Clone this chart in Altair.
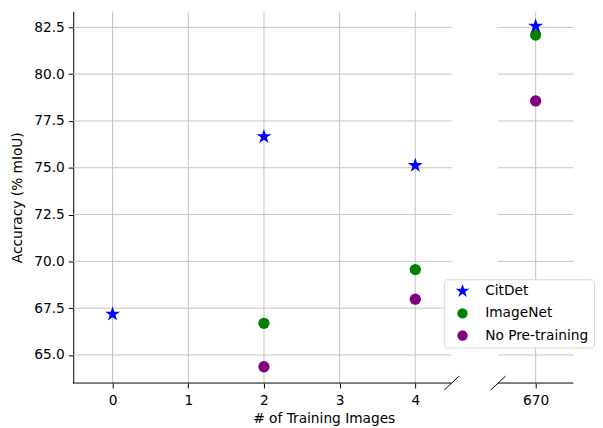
import altair as alt
import pandas as pd

series = ["CitDet", "ImageNet", "No Pre-training"]
colors = ["#0000ff", "#008000", "#800080"]
# five-pointed star as a custom symbol path (scaled a bit larger than the circles)
STAR = ("M0,-1.387L0.3114,-0.4286L1.3192,-0.4286L0.5039,0.1637L0.8153,1.1221L0,0.5298"
        "L-0.8153,1.1221L-0.5039,0.1637L-1.3192,-0.4286L-0.3114,-0.4286Z")
shapes = [STAR, "circle", "circle"]

citdet_x = [0, 2, 4, 670]
citdet_y = [67.18, 76.66, 75.12, 82.57]
imagenet_x = [2, 4, 670]
imagenet_y = [66.69, 69.56, 82.09]
nopre_x = [2, 4, 670]
nopre_y = [64.37, 67.98, 78.57]

x_ticks = [0, 1, 2, 3, 4, 670]
y_ticks = [65.0, 67.5, 70.0, 72.5, 75.0, 77.5, 80.0, 82.5]

# broken x axis: left segment shows [-0.52, 4.48], right segment shows [669.5, 670.5]
seg_lo = [-0.52, 669.5]
seg_hi = [4.48, 670.5]
BREAK_SHIFT = 670 - 5.59  # where the right segment sits on the shared axis

FONT = "DejaVu Sans"
FS = 13.9
H = 376
W = 507
YDOM = [63.5, 83.35]

rows = []
for name, xs, ys in [("ImageNet", imagenet_x, imagenet_y),
                     ("No Pre-training", nopre_x, nopre_y),
                     ("CitDet", citdet_x, citdet_y)]:
    for x, y in zip(xs, ys):
        rows.append({"x": x, "y": y, "series": name})
df = pd.DataFrame(rows)

grid_rows = []
for yt in y_ticks:
    for lo, hi in zip(seg_lo, seg_hi):
        grid_rows.append({"y": yt, "lo": lo, "hi": hi})
grid_df = pd.DataFrame(grid_rows)
spine_df = pd.DataFrame({"lo": seg_lo, "hi": seg_hi})
tick_df = pd.DataFrame({"x": x_ticks})

shift_expr = "datum.{f} > 100 ? datum.{f} - " + str(BREAK_SHIFT) + " : datum.{f}"


def shifted(f, out):
    return {out: shift_expr.format(f=f)}


xscale = alt.Scale(domain=[-0.52, 6.10], nice=False, zero=False)
yscale = alt.Scale(domain=YDOM, nice=False, zero=False)

xaxis = alt.Axis(values=[0, 1, 2, 3, 4, 670 - BREAK_SHIFT],
                 labelExpr="datum.value > 5 ? '670' : format(datum.value, 'd')",
                 title="# of Training Images", domain=False, grid=False,
                 labelPadding=6, titlePadding=4)
yaxis = alt.Axis(values=y_ticks, format=".1f", title="Accuracy (% mIoU)",
                 grid=False, titlePadding=9)

grid = alt.Chart(grid_df).transform_calculate(
    **shifted("lo", "plo"), **shifted("hi", "phi")
).mark_rule(color="#c4c4c4", strokeWidth=1).encode(
    x=alt.X("plo:Q", scale=xscale, axis=xaxis),
    x2="phi:Q",
    y=alt.Y("y:Q", scale=yscale, axis=yaxis),
)

vgrid = alt.Chart(tick_df).transform_calculate(
    **shifted("x", "px")
).mark_rule(color="#c4c4c4", strokeWidth=1).encode(
    x=alt.X("px:Q", scale=xscale, axis=xaxis),
    y=alt.value(0), y2=alt.value(H),
)

spine = alt.Chart(spine_df).transform_calculate(
    **shifted("lo", "plo"), **shifted("hi", "phi")
).mark_rule(color="black", strokeWidth=1).encode(
    x=alt.X("plo:Q", scale=xscale, axis=xaxis), x2="phi:Q", y=alt.value(H),
)

pts = alt.Chart(df).transform_calculate(
    **shifted("x", "px")
).mark_point(filled=True, opacity=1, strokeWidth=0, size=130).encode(
    x=alt.X("px:Q", scale=xscale, axis=xaxis),
    y=alt.Y("y:Q", scale=yscale, axis=yaxis),
    color=alt.Color("series:N", scale=alt.Scale(domain=series, range=colors),
                    legend=alt.Legend(title=None)),
    shape=alt.Shape("series:N", scale=alt.Scale(domain=series, range=shapes),
                    legend=alt.Legend(title=None)),
)

# diagonal break marks on the bottom spine
one = pd.DataFrame({"k": [0]})
bl = alt.Chart(one).mark_rule(color="black", strokeWidth=1).encode(
    x=alt.value(383 - 7.5), x2=alt.value(383 + 7.5),
    y=alt.value(H + 7), y2=alt.value(H - 7),
)
br = alt.Chart(one).mark_rule(color="black", strokeWidth=1).encode(
    x=alt.value(430 - 7.5), x2=alt.value(430 + 7.5),
    y=alt.value(H + 7), y2=alt.value(H - 7),
)

chart = alt.layer(grid, vgrid, spine, pts, bl, br).properties(
    width=W, height=H, background="white",
    padding={"left": 3, "top": 0, "right": 0, "bottom": 0},
).configure_view(
    stroke="transparent"
).configure_axis(
    labelFont=FONT, titleFont=FONT, labelFontSize=FS, titleFontSize=FS,
    titleFontWeight="normal", labelColor="black", titleColor="black",
    domainColor="black", domainWidth=1, tickColor="black", tickSize=5,
    labelPadding=4,
).configure_legend(
    orient="none", legendX=375, legendY=271,
    labelFont=FONT, labelFontSize=FS, labelColor="black",
    strokeColor="#d6d6d6", fillColor="white", cornerRadius=3,
    padding=5, rowPadding=7.5, symbolOffset=7, labelOffset=16, symbolSize=110,
    symbolStrokeWidth=0, symbolOpacity=1,
)

chart.save("out.html", embed_options={"renderer": "svg", "actions": False})
